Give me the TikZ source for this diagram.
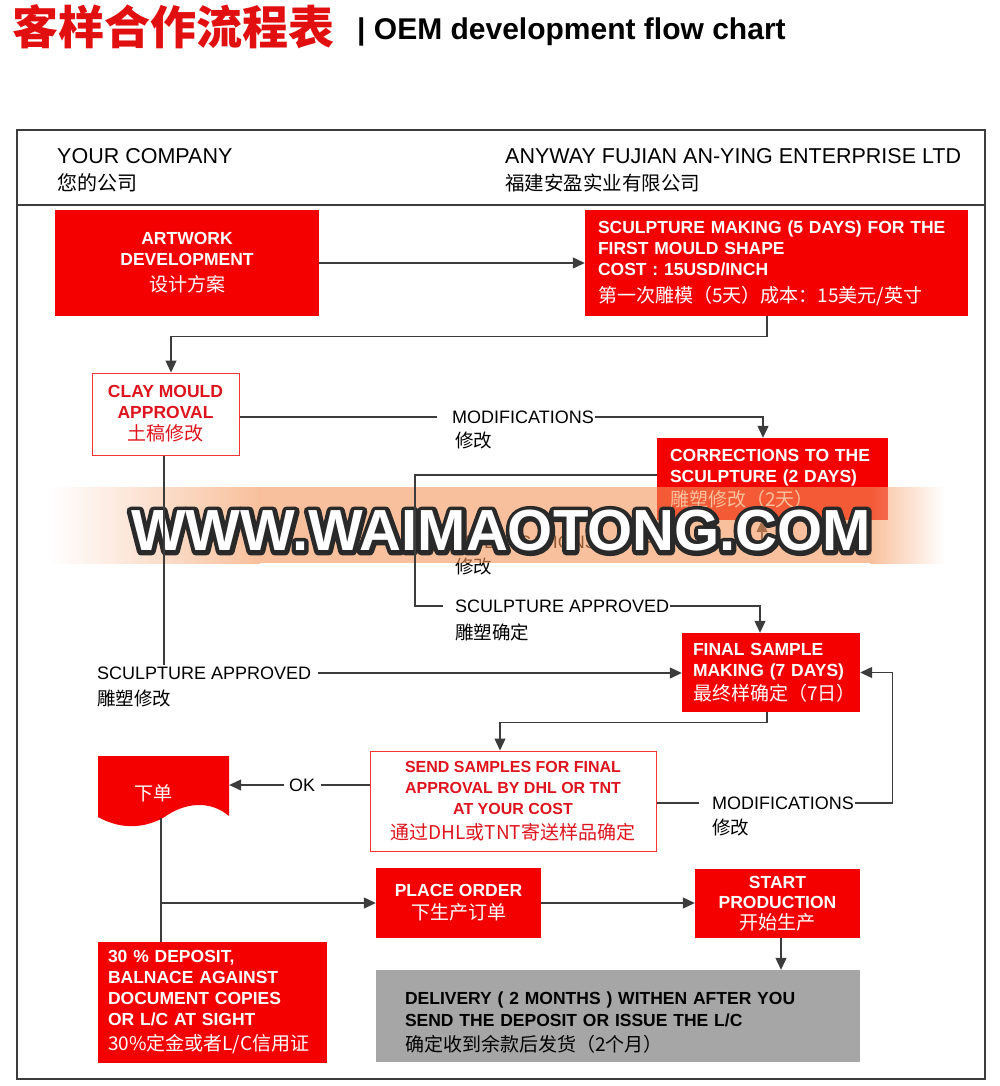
\documentclass[tikz,border=0pt]{standalone}
\usepackage{fontspec}
\setmainfont{Liberation Sans}
\newfontfamily\cjk{Noto Sans CJK SC}
\usetikzlibrary{arrows.meta,positioning,calc}

\definecolor{boxred}{RGB}{245,0,0}
\definecolor{txtred}{RGB}{222,20,30}
\definecolor{titlered}{RGB}{225,15,15}
\definecolor{linegray}{RGB}{60,60,60}
\definecolor{boxgray}{RGB}{166,166,166}
\definecolor{band}{RGB}{244,150,90}
\definecolor{wmdark}{RGB}{40,40,40}

\newcommand\cn[1]{{\cjk\mdseries\fontsize{19}{21}\selectfont #1}}
% outlined text: stroke drawn with pdf text render mode 2
\newcommand\outlined[1]{\special{pdf:literal direct 2 Tr 9 w 1 j 0.16 0.16 0.16 RG}#1\special{pdf:literal direct 0 Tr}}

\begin{document}
\begin{tikzpicture}[x=1pt,y=-1pt,
	redbox/.style={rectangle,fill=boxred,text=white,inner sep=0pt,font=\bfseries\fontsize{17.5}{21}\selectfont},
	whitebox/.style={rectangle,draw=boxred!80,line width=1pt,fill=white,text=txtred,inner sep=0pt,font=\bfseries\fontsize{17.5}{21}\selectfont},
	lbl/.style={anchor=west,inner sep=1pt,font=\fontsize{18}{21}\selectfont},
	cnlbl/.style={anchor=west,inner sep=1pt,font=\cjk\fontsize{18.5}{21}\selectfont},
	conn/.style={draw=linegray,line width=1.2pt},
	arr/.style={conn,-{Triangle[length=12pt,width=11pt]}},
	wmtext/.style={inner sep=0pt,font=\bfseries\fontsize{58}{60}\selectfont}]
	\useasboundingbox (0,0) rectangle (999,1086);
	\fill[white] (0,0) rectangle (999,1086);
	% title
	\node [anchor=base west,inner sep=0pt,text=titlered,font=\cjk\bfseries\fontsize{46}{50}\selectfont] (title) at (12,45) {客样合作流程表};
	\node [anchor=base west,inner sep=0pt,font=\bfseries\fontsize{30}{34}\selectfont] (subtitle) at (357,40) {| OEM development flow chart};
	% frame and header
	\draw [linegray,line width=2pt] (17,130) rectangle (985,1079);
	\draw [linegray,line width=2pt] (17,205) -- (985,205);
	\node [anchor=base west,inner sep=0pt,font=\fontsize{21.5}{24}\selectfont] (yourco) at (57,164) {YOUR COMPANY};
	\node [anchor=base west,inner sep=0pt,font=\cjk\fontsize{20}{24}\selectfont] (yourcocn) at (57,190) {您的公司};
	\node [anchor=base west,inner sep=0pt,font=\fontsize{21.5}{24}\selectfont] (anyway) at (505,164) {ANYWAY FUJIAN AN-YING ENTERPRISE LTD};
	\node [anchor=base west,inner sep=0pt,font=\cjk\fontsize{19.5}{24}\selectfont] (anywaycn) at (505,190) {福建安盈实业有限公司};

	% boxes
	\node [redbox,minimum width=264,minimum height=106,align=center] (art) at (187,263) {ARTWORK\\DEVELOPMENT\\[5pt]\cn{设计方案}};
	\node [redbox,minimum height=106,text width=357,inner xsep=13,align=left] (sculpt) at (776.5,263) {SCULPTURE MAKING (5 DAYS) FOR THE\\FIRST MOULD SHAPE\\COST : 15USD/INCH\\[6pt]\cn{第一次雕模（5天）成本：15美元/英寸}};
	\node [whitebox,minimum width=147,minimum height=82,align=center] (clay) at (165.5,414) {CLAY MOULD\\APPROVAL\\[1pt]\cn{土稿修改}};
	\node [redbox,minimum height=82,text width=205,inner xsep=13,align=left] (corr) at (772.5,479) {CORRECTIONS TO THE\\SCULPTURE (2 DAYS)\\[3pt]\cn{雕塑修改（2天）}};
	\node [redbox,minimum height=79,text width=156,inner xsep=11,align=left] (final) at (771,672.5) {FINAL SAMPLE\\MAKING (7 DAYS)\\[3pt]\cn{最终样确定（7日）}};
	\node [whitebox,minimum width=286,minimum height=100,align=center,font=\bfseries\fontsize{16}{21}\selectfont] (send) at (513,801) {SEND SAMPLES FOR FINAL\\APPROVAL BY DHL OR TNT\\AT YOUR COST\\[4pt]\cn{通过DHL或TNT寄送样品确定}};
	\fill [boxred] (98,756) -- (229,756) -- (229,816) .. controls (210,800) and (185,802) .. (163,818) .. controls (140,830) and (118,828) .. (98,817) -- cycle;
	\node [inner sep=0pt,minimum width=152,minimum height=50,text=white,font=\cjk\fontsize{19}{21}\selectfont] (xd) at (153,793) {下单};
	\node [redbox,minimum height=121,text width=209,inner xsep=10,align=left] (deposit) at (212.5,1002.5) {30 \% DEPOSIT,\\BALNACE AGAINST\\DOCUMENT COPIES\\OR L/C AT SIGHT\\[4pt]\cn{30\%定金或者L/C信用证}};
	\node [redbox,minimum width=165,minimum height=70,align=center] (place) at (458.5,903) {PLACE ORDER\\[2pt]\cn{下生产订单}};
	\node [redbox,minimum width=165,minimum height=69,align=center,font=\bfseries\fontsize{17.5}{20}\selectfont] (start) at (777.5,903.5) {START\\PRODUCTION\\[1pt]\cn{开始生产}};
	\node [rectangle,fill=boxgray,minimum height=92,text width=426,inner xsep=29,inner ysep=0pt,align=left,font=\bfseries\fontsize{17.5}{22}\selectfont] (deliv) at (618,1016) {\rule{0pt}{25pt}DELIVERY ( 2 MONTHS ) WITHEN AFTER YOU\\SEND THE DEPOSIT OR ISSUE THE L/C\\[3pt]\cn{确定收到余款后发货（2个月）}};

	% labels
	\node [lbl] (mod1) at (451,417) {MODIFICATIONS};
	\node [cnlbl] (mod1cn) at (454,440) {修改};
	\node [lbl] (sap1) at (454,606) {SCULPTURE APPROVED};
	\node [cnlbl] (sap1cn) at (454,632) {雕塑确定};
	\node [lbl] (mod2) at (454,542) {MODIFICATIONS};
	\node [cnlbl] (mod2cn) at (454,566) {修改};
	\node [lbl] (sap2) at (96,673) {SCULPTURE APPROVED};
	\node [cnlbl] (sap2cn) at (96,698) {雕塑修改};
	\node [lbl] (ok) at (288,785) {OK};
	\node [lbl] (mod3) at (711,803) {MODIFICATIONS};
	\node [cnlbl] (mod3cn) at (711,827) {修改};

	% connectors under the watermark
	\coordinate (lx) at (415,475);
	\draw [conn] (lx |- mod2.west) -- ([xshift=-11pt]mod2.west);
	\draw [arr] (mod2.east) -| ([xshift=-10.5pt]corr.south);

	% watermark
	\shade [left color=white,right color=band,fill opacity=.6] (50,487) rectangle (260,563);
	\fill [band,fill opacity=.6] (260,487) rectangle (870,563);
	\shade [left color=band,right color=white,fill opacity=.6] (870,487) rectangle (945,563);
	\coordinate (wm) at (501,531);
	\node [wmtext,text=wmdark] (wmline) at (wm) {\outlined{WWW.WAIMAOTONG.COM}};
	\node [wmtext,text=white] (wmark) at (wm) {WWW.WAIMAOTONG.COM};

	% connectors
	\draw [arr] (art.east) -- (art.east -| sculpt.west);
	\draw [arr] ([xshift=-9.5pt]sculpt.south) -- ++(0,20) -| ([xshift=5.5pt]clay.north);
	\draw [conn] (clay.east |- mod1.west) -- ([xshift=-14pt]mod1.west);
	\draw [arr] (mod1.east) -| ([xshift=-9.5pt]corr.north);
	\draw [conn] (corr.west |- lx) -- (lx) |- ([xshift=-11pt]sap1.west);
	\draw [arr] (sap1.east) -| ([xshift=-11pt]final.north);
	\draw [conn] ([xshift=-1.5pt]clay.south) -- ([xshift=-1.5pt]clay.south |- sap2.north);
	\draw [arr] ([xshift=6pt]sap2.east) -- (sap2.east -| final.west);
	\draw [arr] ([xshift=-4pt]final.south) -- ++(0,10) -| ([xshift=-13pt]send.north);
	\draw [conn] (send.west |- ok.east) -- ([xshift=5pt]ok.east);
	\draw [arr] ([xshift=-4pt]ok.west) -- (ok.west -| xd.east);
	\draw [conn] (send.east |- mod3.west) -- ([xshift=-12pt]mod3.west);
	\draw [arr] (mod3.east) -| ([xshift=32pt]final.east) -- (final.east);
	\draw [conn] ([xshift=8pt]xd.south) -- ([xshift=8pt]xd.south |- deposit.north);
	\draw [arr] ([xshift=8pt]xd.south |- place.west) -- (place.west);
	\draw [arr] (place.east) -- (place.east -| start.west);
	\draw [arr] ([xshift=3.5pt]start.south) -- ([xshift=3.5pt]start.south |- deliv.north);
\end{tikzpicture}
\end{document}
